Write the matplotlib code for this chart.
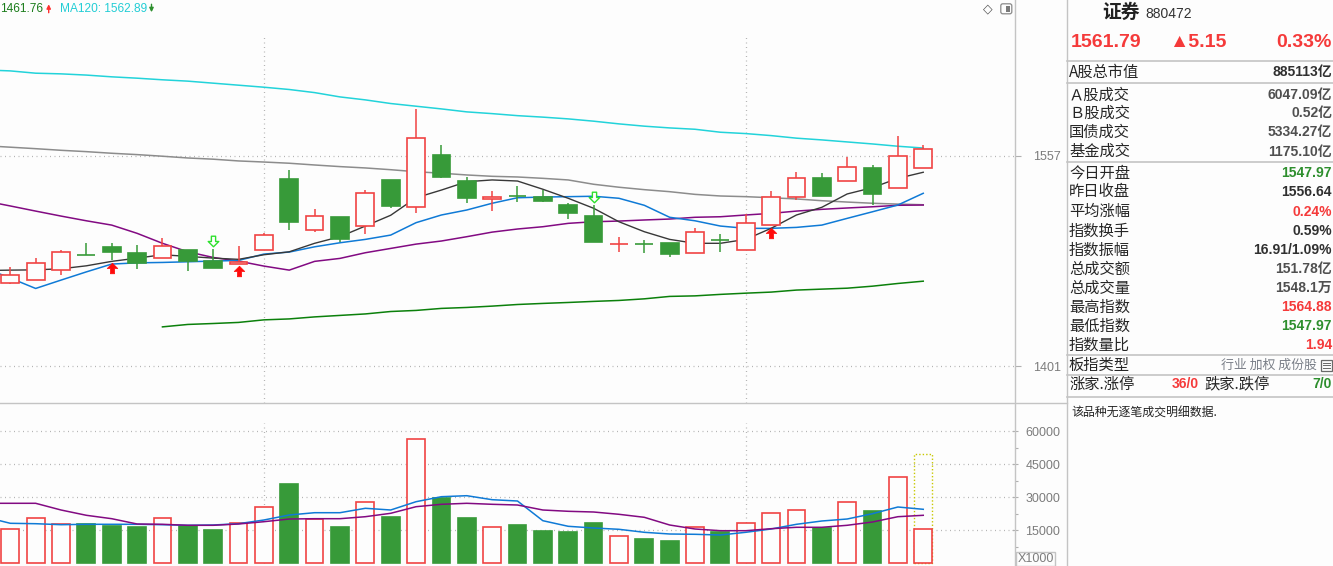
import matplotlib
matplotlib.use('Agg')
import matplotlib.pyplot as plt
import matplotlib.transforms as mtransforms
from matplotlib.path import Path
from matplotlib.patches import Rectangle, FancyBboxPatch

plt.rcParams['font.family'] = ['Liberation Sans', 'Noto Sans CJK SC', 'DejaVu Sans']

# ---- K线数据 (37 根日线) ----
opens = [1462.4, 1464.7, 1472.1, 1483.4, 1489.4, 1484.9, 1481.5, 1487.2, 1478.8, 1477.0,
         1486.9, 1539.9, 1501.8, 1511.7, 1504.8, 1539.2, 1518.9, 1557.7, 1538.4, 1524.8,
         1527.6, 1526.3, 1520.6, 1512.4, 1491.5, 1491.6, 1492.1, 1484.7, 1494.9, 1486.9,
         1505.5, 1526.3, 1540.7, 1538.2, 1548.1, 1533.0, 1547.97]
closes = [1468.4, 1477.3, 1485.5, 1483.2, 1485.9, 1477.3, 1489.9, 1478.8, 1473.8, 1478.3,
          1498.1, 1508.2, 1512.2, 1495.6, 1529.3, 1519.9, 1570.1, 1541.6, 1526.0, 1526.3,
          1527.5, 1523.8, 1514.9, 1493.3, 1491.6, 1491.5, 1484.4, 1500.3, 1494.8, 1507.0,
          1526.3, 1540.4, 1527.5, 1548.6, 1529.0, 1556.64, 1561.79]
highs = [1474.5, 1481.2, 1487.2, 1492.1, 1492.1, 1490.9, 1496.1, 1487.2, 1487.9, 1490.4,
         1499.6, 1546.6, 1517.6, 1511.7, 1531.7, 1539.2, 1591.9, 1565.2, 1541.2, 1531.0,
         1534.7, 1531.7, 1521.9, 1520.6, 1496.8, 1494.6, 1492.1, 1503.5, 1499.1, 1513.7,
         1531.0, 1545.1, 1544.4, 1556.3, 1550.1, 1571.9, 1564.88]
lows = [1461.76, 1464.7, 1468.8, 1483.2, 1479.7, 1473.3, 1481.5, 1471.8, 1473.8, 1477.0,
        1486.9, 1502.0, 1500.8, 1493.3, 1499.3, 1518.6, 1514.4, 1540.9, 1522.3, 1516.4,
        1523.0, 1523.0, 1510.4, 1493.3, 1485.9, 1485.2, 1482.2, 1484.7, 1485.9, 1486.9,
        1505.5, 1524.3, 1527.5, 1538.2, 1520.8, 1533.0, 1547.97]
volumes = [15455, 20455, 17727, 17727, 16955, 16500, 20455, 17090, 15136, 18182,
           25455, 36045, 20000, 16500, 27727, 21045, 56364, 29682, 20591, 16364,
           17409, 14682, 14227, 18318, 12273, 11045, 10136, 16364, 14364, 18182,
           22727, 24091, 16045, 27727, 23773, 39091, 15481]
volume_projected = 49818

# 均线 (第一个值是画面左侧外的前一日)
ma5 = [1472.0, 1472.3, 1472.5, 1473.3, 1475.5, 1478.8, 1481.2, 1483.7, 1482.5, 1481.2, 1480.3,
       1483.7, 1485.9, 1492.2, 1497.1, 1505.0, 1513.0, 1526.0, 1531.7, 1537.9, 1539.2,
       1538.4, 1532.3, 1525.6, 1518.2, 1508.2, 1500.8, 1495.1, 1492.2, 1492.2, 1495.1,
       1503.3, 1513.2, 1518.9, 1528.8, 1533.5, 1540.4, 1544.9]
ma10 = [1473.8, 1466.4, 1458.7, 1464.9, 1471.0, 1476.8, 1477.7, 1478.0, 1478.5, 1479.0, 1479.5,
        1484.2, 1485.7, 1489.6, 1492.6, 1495.1, 1498.3, 1507.5, 1513.2, 1516.9, 1521.9,
        1526.0, 1526.5, 1526.8, 1527.1, 1525.6, 1520.4, 1511.5, 1508.9, 1505.0, 1503.3,
        1503.3, 1504.0, 1505.7, 1510.7, 1515.6, 1520.6, 1529.3]
ma20 = [1523.6, 1519.9, 1516.1, 1512.4, 1508.9, 1505.7, 1499.6, 1492.2, 1485.9, 1481.7, 1479.0,
        1475.3, 1472.3, 1478.8, 1481.0, 1485.2, 1488.4, 1491.6, 1493.9, 1497.1, 1500.5,
        1502.8, 1504.5, 1507.0, 1508.2, 1508.7, 1509.5, 1510.2, 1511.5, 1511.9, 1513.2,
        1514.4, 1516.1, 1517.4, 1518.4, 1519.3, 1520.4, 1520.6]
ma60 = [1564.6, 1563.5, 1562.4, 1561.2, 1560.2, 1559.0, 1558.0, 1556.8, 1555.5, 1554.6, 1553.3,
        1552.5, 1551.6, 1550.3, 1549.1, 1548.1, 1546.8, 1545.3, 1544.2, 1542.9, 1541.9,
        1541.4, 1540.4, 1539.2, 1536.0, 1533.8, 1532.0, 1530.5, 1528.5, 1527.3, 1526.8,
        1526.0, 1525.1, 1523.8, 1522.8, 1521.9, 1521.3, 1520.8]
ma120 = [1620.8, 1620.1, 1618.4, 1617.9, 1617.0, 1615.7, 1614.7, 1613.5, 1612.5, 1611.0, 1609.5,
         1608.0, 1606.3, 1604.0, 1600.8, 1598.6, 1595.9, 1593.9, 1591.9, 1589.7, 1588.4,
         1586.9, 1585.8, 1584.5, 1582.8, 1580.8, 1579.1, 1577.8, 1576.8, 1574.6, 1573.6,
         1572.1, 1570.2, 1568.9, 1567.4, 1565.9, 1564.2, 1562.89]
ma250_start = 6
ma250 = [1430.2, 1432.0, 1432.7, 1433.5, 1435.4, 1436.1, 1437.6, 1438.7, 1439.8, 1441.6,
         1442.4, 1443.9, 1444.6, 1445.6, 1446.8, 1447.6, 1448.3, 1449.1, 1449.8, 1451.0,
         1452.8, 1453.2, 1454.3, 1455.2, 1456.0, 1457.5, 1458.2, 1458.9, 1460.4, 1462.4, 1464.1]
vol_ma5 = [21040, 18180, 17998, 17544, 17726, 17726, 17726, 17544, 17271, 17407, 17998,
           19680, 21952, 22998, 22998, 24998, 24225, 27997, 30270, 30724, 28906,
           28315, 19362, 16817, 16044, 15453, 14090, 13317, 13181, 12862, 14090,
           15589, 17726, 19225, 20134, 22543, 25588, 24543]
vol_ma10 = [27270, 27270, 27270, 24225, 21816, 20271, 17862, 17726, 17271, 17271, 17862,
            18907, 20134, 20271, 20271, 21180, 22725, 25725, 26816, 27270, 26816,
            26497, 24225, 23634, 23316, 22271, 20907, 17407, 15589, 14817, 14817,
            15726, 16362, 16362, 17271, 18771, 21180, 21816]

buy_idx = [4, 9, 30]
sell_idx = [8, 23]
month_sep = [10, 29]
price_ticks = [1401, 1557]
vol_ticks = [15000, 30000, 45000, 60000]
vol_minor = [7500, 22500, 37500, 52500]

# 右侧信息栏
info_name, info_code = '证券', '880472'
info_price, info_change, info_pct = '1561.79', '▲5.15', '0.33%'
info_labels = ['A股总市值', 'Ａ股成交', 'Ｂ股成交', '国债成交', '基金成交', '今日开盘', '昨日收盘',
               '平均涨幅', '指数换手', '指数振幅', '总成交额', '总成交量', '最高指数', '最低指数', '指数量比']
info_values = ['885113亿', '6047.09亿', '0.52亿', '5334.27亿', '1175.10亿', '1547.97', '1556.64',
               '0.24%', '0.59%', '16.91/1.09%', '151.78亿', '1548.1万', '1564.88', '1547.97', '1.94']
info_kind = ['k', 'g', 'g', 'g', 'g', 'G', 'k', 'R', 'k', 'k', 'g', 'g', 'R', 'G', 'R']

# ---- 样式 ----
BG = '#fdfdfd'
RED = '#f04343'
GREEN = '#379a39'
LINE = '#c4c4c4'
GRIDC = '#b4b4b4'
TXT = {'k': '#303030', 'g': '#505050', 'R': '#f53a3a', 'G': '#2e8f2e'}

W, H = 1333, 566
def rect(x0, y0, x1, y1):
    return [x0 / W, 1 - y1 / H, (x1 - x0) / W, (y1 - y0) / H]

fig = plt.figure(figsize=(W / 100, H / 100), dpi=100, facecolor=BG)

n = len(opens)
idx = list(range(n))
ma_x = list(range(-1, n))
XL = (-0.406, 39.63)

# ---- 价格区 ----
ax = fig.add_axes(rect(0, 0, 1015.3, 403.3))
ax.set_facecolor(BG)
for s in ax.spines.values():
    s.set_visible(False)

for y in price_ticks:
    ax.axhline(y, color=GRIDC, lw=0.9, ls=(0, (0.8, 2.8)), zorder=0)
for m in month_sep:
    ax.vlines(m, 1373.5, 1646.8, color=GRIDC, lw=0.9, ls=(0, (0.8, 2.8)), zorder=0)

ax.plot(ma_x, ma120, color='#22d3da', lw=1.1, zorder=1)
ax.plot(ma_x, ma60, color='#8c8c8c', lw=1.1, zorder=1)
ax.plot(ma_x, ma20, color='#820a82', lw=1.1, zorder=1)
ax.plot(ma_x, ma10, color='#0f7ad6', lw=1.1, zorder=1)
ax.plot(ma_x, ma5, color='#383838', lw=1.0, zorder=1)
ax.plot(range(ma250_start, n), ma250, color='#0b800b', lw=1.1, zorder=1)

for i in idx:
    o, c, h, l = opens[i], closes[i], highs[i], lows[i]
    up = c >= o
    col = RED if up else GREEN
    lo, hi = min(o, c), max(o, c)
    ax.vlines(i, hi, h, color=col, lw=1.1, zorder=2)
    ax.vlines(i, l, lo, color=col, lw=1.1, zorder=2)
    ax.bar(i, max(hi - lo, 0.05), bottom=lo, width=0.7,
           facecolor=BG if up else col, edgecolor=col, lw=1.2, zorder=3)

up_arrow = Path([(0, 0.5), (0.5, 0), (0.2, 0), (0.2, -0.5), (-0.2, -0.5), (-0.2, 0), (-0.5, 0), (0, 0.5)],
                [Path.MOVETO] + [Path.LINETO] * 6 + [Path.CLOSEPOLY])
down_arrow = Path([(0, -0.5), (0.5, 0), (0.2, 0), (0.2, 0.5), (-0.2, 0.5), (-0.2, 0), (-0.5, 0), (0, -0.5)],
                  [Path.MOVETO] + [Path.LINETO] * 6 + [Path.CLOSEPOLY])
below = ax.transData + mtransforms.ScaledTranslation(0, -7.5 / 100, fig.dpi_scale_trans)
above = ax.transData + mtransforms.ScaledTranslation(0, 7.7 / 100, fig.dpi_scale_trans)
ax.plot(buy_idx, [lows[i] for i in buy_idx], ls='none', marker=up_arrow, ms=7.6,
        mfc='#ff0a0a', mec='#ff0a0a', mew=0.5, transform=below, zorder=4)
ax.plot(sell_idx, [highs[i] for i in sell_idx], ls='none', marker=down_arrow, ms=7.6,
        mfc='white', mec='#2ee02e', mew=1.0, transform=above, zorder=4)

ax.set_xlim(*XL)
ax.set_ylim(1373.5, 1672.7)
ax.set_xticks([])
ax.yaxis.tick_right()
ax.set_yticks(price_ticks)
ax.set_yticklabels([str(t) for t in price_ticks])
ax.tick_params(axis='y', direction='out', length=4.3, width=0.8, color='#b0b0b0',
               labelcolor='#7c7c7c', labelsize=9, pad=8.3)

# ---- 成交量区 ----
axv = fig.add_axes(rect(0, 403.3, 1015.3, 566))
axv.set_facecolor(BG)
for s in axv.spines.values():
    s.set_visible(False)
for y in vol_ticks:
    axv.axhline(y, color=GRIDC, lw=0.9, ls=(0, (0.8, 2.8)), zorder=0)
for m in month_sep:
    axv.vlines(m, 0, 63900, color=GRIDC, lw=0.9, ls=(0, (0.8, 2.8)), zorder=0)

axv.bar(n - 1, volume_projected, width=0.7, fill=False, edgecolor='#c8c800', lw=1.0, ls=(0, (1, 1.5)), zorder=1)
for i in idx:
    up = closes[i] >= opens[i]
    col = RED if up else GREEN
    axv.bar(i, volumes[i], width=0.7, facecolor=BG if up else col, edgecolor=col, lw=1.2, zorder=2)
axv.plot(ma_x, vol_ma5, color='#0f7ad6', lw=1.1, zorder=3)
axv.plot(ma_x, vol_ma10, color='#820a82', lw=1.1, zorder=3)

axv.set_xlim(*XL)
axv.set_ylim(-1227, 72720)
axv.set_xticks([])
axv.yaxis.tick_right()
axv.set_yticks(vol_ticks)
axv.set_yticks(vol_minor, minor=True)
axv.set_yticklabels([str(t) for t in vol_ticks])
axv.tick_params(axis='y', which='major', direction='inout', length=5, width=0.8, color='#b0b0b0',
                labelcolor='#7c7c7c', labelsize=9, pad=4.8)
axv.tick_params(axis='y', which='minor', direction='out', length=2.5, width=0.8, color='#b0b0b0')

# ---- 叠加层: 边框、标题、信息栏 ----
ov = fig.add_axes([0, 0, 1, 1], zorder=10)
ov.set_xlim(0, W)
ov.set_ylim(H, 0)
ov.axis('off')
ov.patch.set_alpha(0)

ov.plot([1015.3, 1015.3], [0, H], color=LINE, lw=1.0)
ov.plot([1066.7, 1066.7], [0, H], color=LINE, lw=1.0)
ov.plot([0, 1066.7], [403.3, 403.3], color=LINE, lw=1.0)
for y in [61.3, 83, 162.3, 355, 375, 396.7]:
    ov.plot([1066.7, W], [y, y], color=LINE, lw=1.2)

ov.add_patch(Rectangle((1015.7, 551.7), 39.6, 14, fill=False, edgecolor=LINE, lw=1.0))
ov.text(1035.5, 559, 'X1000', ha='center', va='center', fontsize=9, color='#7c7c7c')

# 左上角
ov.text(0, 8.5, f'{min(lows):.2f}', ha='left', va='center', fontsize=8.6, color='#1b7d1b')
ov.annotate('', xy=(48.7, 1.5), xytext=(48.7, 15.5),
            arrowprops=dict(arrowstyle='-|>', color='#ff3030', lw=1.0, mutation_scale=6))
ov.text(60, 8.5, f'MA120: {ma120[-1]:.2f}', ha='left', va='center', fontsize=8.6, color='#22cdd5')
ov.annotate('', xy=(151.5, 15), xytext=(151.5, 1.5),
            arrowprops=dict(arrowstyle='-|>', color='#2e8f2e', lw=1.0, mutation_scale=6))

# 右上角图标
ov.text(988, 8.5, '◇', ha='center', va='center', fontsize=9, color='#555555', family='DejaVu Sans')
ov.add_patch(FancyBboxPatch((1000.8, 3.8), 11, 10, boxstyle='round,pad=0,rounding_size=2',
                            fill=False, edgecolor='#8a8a8a', lw=0.9))
ov.add_patch(Rectangle((1006.3, 5.5), 3.8, 6.8, color='#7a7a7a', lw=0))

# 信息栏
ov.text(1102.7, 12.7, info_name, ha='left', va='center', fontsize=13.5, fontweight='bold',
        color='#222222', family=['Noto Sans CJK SC', 'DejaVu Sans'])
ov.text(1145, 14, info_code, ha='left', va='center', fontsize=10, color='#333333')
ov.text(1071, 42.2, info_price, ha='left', va='center', fontsize=14, fontweight='bold', color=TXT['R'])
ov.text(1169, 42.2, info_change, ha='left', va='center', fontsize=14, fontweight='bold', color=TXT['R'],
        family=['Liberation Sans', 'DejaVu Sans'])
ov.text(1332, 42.2, info_pct, ha='right', va='center', fontsize=14, fontweight='bold', color=TXT['R'])

row_y = [72, 95, 113.5, 132.3, 151.7, 172.7, 191.7, 211.7, 231, 250, 269, 288.3, 307.3, 326, 345]
cjk = ['Noto Sans CJK SC', 'DejaVu Sans']
for y, lab, val, k in zip(row_y, info_labels, info_values, info_kind):
    ov.text(1069, y, lab, ha='left', va='center', fontsize=11, color='#262626', family=cjk)
    ov.text(1332, y, val, ha='right', va='center', fontsize=10, fontweight='bold', color=TXT[k],
            family=['Liberation Sans', 'Noto Sans CJK SC'])

ov.text(1069, 365, '板指类型', ha='left', va='center', fontsize=11, color='#262626', family=cjk)
ov.text(1317, 365.5, '行业 加权 成份股', ha='right', va='center', fontsize=9.3, color='#7a7f88', family=cjk)
ov.add_patch(Rectangle((1320.5, 359.5), 11, 11, fill=False, edgecolor='#6a6a6a', lw=0.9))
for yy in [362.5, 365, 367.5]:
    ov.plot([1322.5, 1329.5], [yy, yy], color='#6a6a6a', lw=0.7)

ov.text(1069, 384.3, '涨家.涨停', ha='left', va='center', fontsize=11, color='#262626', family=cjk)
ov.text(1198.5, 384.3, '36/0', ha='right', va='center', fontsize=10, fontweight='bold', color=TXT['R'])
ov.text(1204, 384.3, '跌家.跌停', ha='left', va='center', fontsize=11, color='#262626', family=cjk)
ov.text(1332, 384.3, '7/0', ha='right', va='center', fontsize=10, fontweight='bold', color=TXT['G'])

ov.text(1071.7, 413.3, '该品种无逐笔成交明细数据.', ha='left', va='center', fontsize=8.6,
        color='#222222', family=cjk)

fig.savefig('out.png', dpi=100, facecolor=BG)
